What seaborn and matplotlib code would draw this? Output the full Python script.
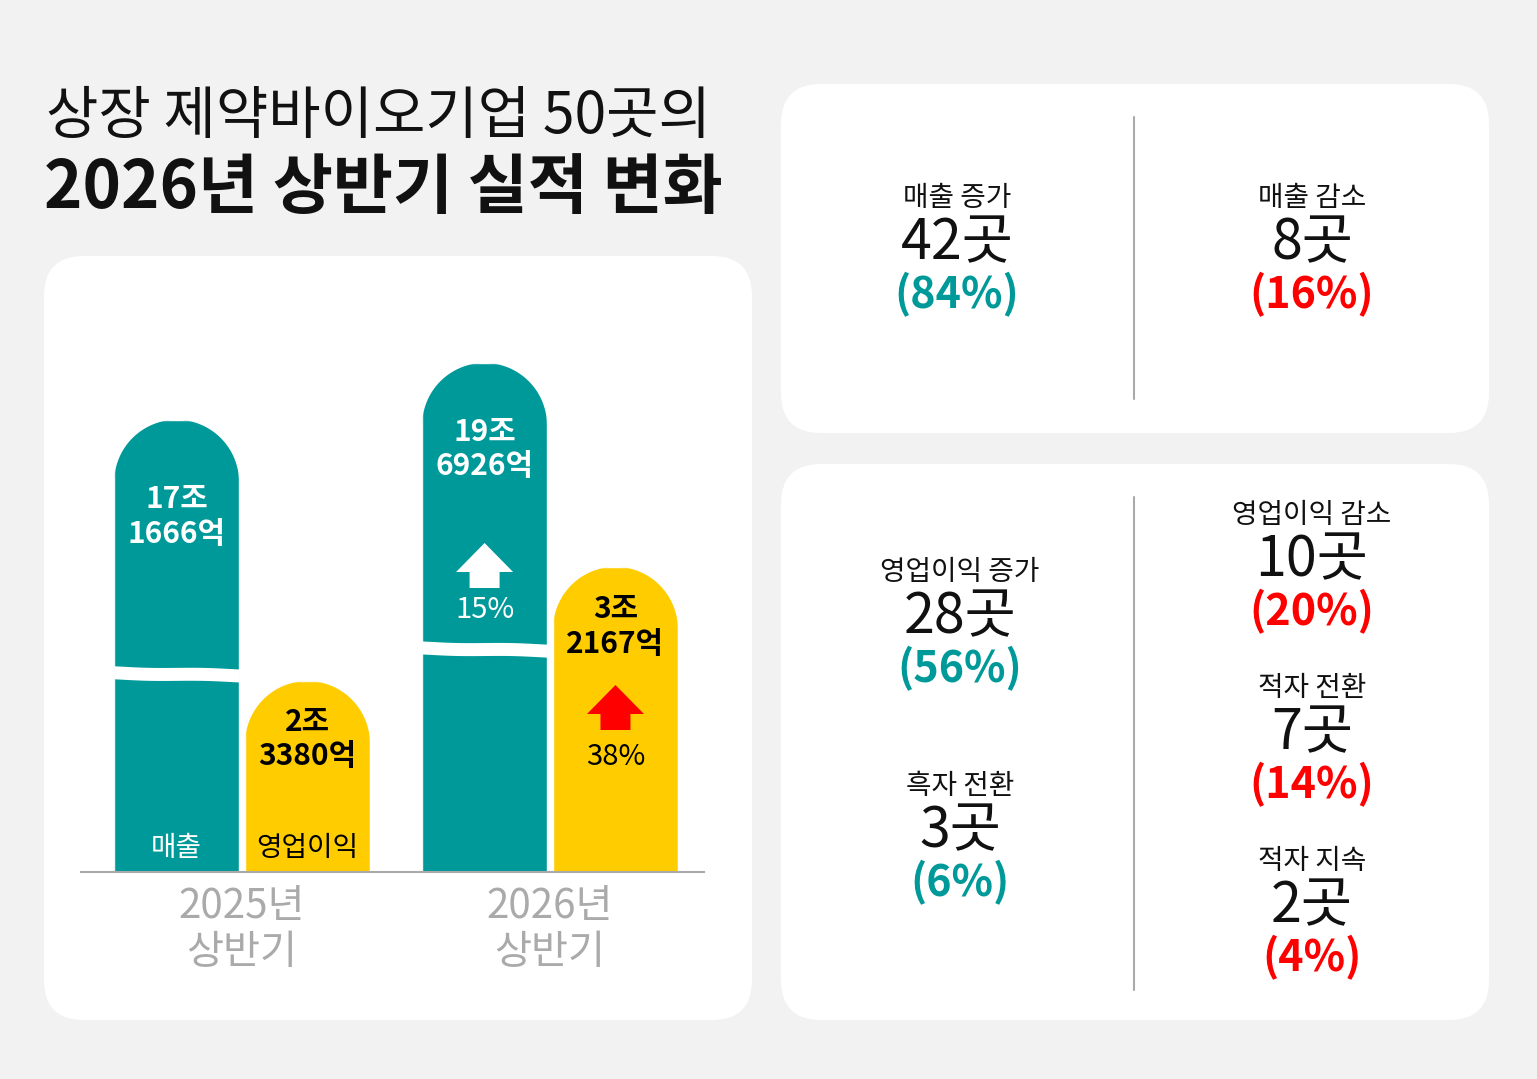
import numpy as np
import pandas as pd
import seaborn as sns
import matplotlib.pyplot as plt
from matplotlib.patches import FancyBboxPatch, Polygon

# ---- data ----
periods = ["2025년\n상반기", "2026년\n상반기"]
metrics = ["매출", "영업이익"]
revenue = [17.1666, 19.6926]        # 조 원
op_profit = [2.3380, 3.2167]        # 조 원
revenue_labels = ["17조\n1666억", "19조\n6926억"]
profit_labels = ["2조\n3380억", "3조\n2167억"]
growth_labels = ["15%", "38%"]       # 매출, 영업이익 증가율

sales_cats = ["매출 증가", "매출 감소"]
sales_counts = [42, 8]
sales_pcts = [84, 16]
op_up_cats = ["영업이익 증가", "흑자 전환"]
op_up_counts = [28, 3]
op_up_pcts = [56, 6]
op_down_cats = ["영업이익 감소", "적자 전환", "적자 지속"]
op_down_counts = [10, 7, 2]
op_down_pcts = [20, 14, 4]

TEAL = "#009999"
YELLOW = "#ffcc00"
RED = "#ff0000"
GREY = "#aaaaaa"
W, H = 1537, 1079

sns.set_theme(style="white")
plt.rcParams["font.family"] = ["Noto Sans CJK KR", "DejaVu Sans"]

fig = plt.figure(figsize=(W / 100, H / 100), dpi=100)
fig.patch.set_facecolor("#f2f2f2")

# background canvas in pixel coordinates
bg = fig.add_axes([0, 0, 1, 1], zorder=0)
bg.set_xlim(0, W)
bg.set_ylim(H, 0)
bg.axis("off")

def panel(x0, y0, x1, y1):
    bg.add_patch(FancyBboxPatch((x0, y0), x1 - x0, y1 - y0,
                                boxstyle="round,pad=0,rounding_size=40",
                                fc="white", ec="none"))

panel(44, 256, 752, 1020)
panel(781, 84, 1489, 433)
panel(781, 464, 1489, 1020)
bg.plot([1134, 1134], [117, 399], color=GREY, lw=1.5)
bg.plot([1134, 1134], [497, 990], color=GREY, lw=1.5)

bg.text(46, 117, "상장 제약바이오기업 50곳의", fontsize=41, ha="left", va="center", color="#111111")
bg.text(44, 188, "2026년 상반기 실적 변화", fontsize=47, fontweight="black",
        ha="left", va="center", color="#111111")

# ---- bar chart (broken value scale: 매출 bars are compressed above the break) ----
knot_v = [0, 2, 3.5, 16, 20, 24]
knot_d = [0, 147, 342, 426, 516, 606]

def fwd(v):
    return np.interp(v, knot_v, knot_d)

def inv(d):
    return np.interp(d, knot_d, knot_v)

base_px = 872
ax = fig.add_axes([81 / W, (H - base_px) / H, 623 / W, 606 / H], zorder=1)
ax.patch.set_alpha(0)

df = pd.DataFrame({
    "period": periods * 2,
    "metric": [metrics[0]] * 2 + [metrics[1]] * 2,
    "value": revenue + op_profit,
})
sns.barplot(data=df, x="period", y="value", hue="metric",
            palette={metrics[0]: TEAL, metrics[1]: YELLOW},
            width=0.85, gap=0.046, legend=False, ax=ax, saturation=1)
ax.set_yscale("function", functions=(fwd, inv))
ax.set_ylim(0, 24)
ax.set_xlim(-0.523, 1.5)
ax.set_yticks([])
ax.set_xlabel("")
ax.set_ylabel("")
for s in ["top", "right", "left"]:
    ax.spines[s].set_visible(False)
ax.spines["bottom"].set_color(GREY)
ax.spines["bottom"].set_linewidth(1.5)
ax.tick_params(axis="x", length=0, pad=10, labelsize=29, labelcolor=GREY)
for lab in ax.get_xticklabels():
    lab.set_linespacing(1.15)

# overlay for annotations, pixel coordinates
ov = fig.add_axes([0, 0, 1, 1], zorder=2)
ov.set_xlim(0, W)
ov.set_ylim(H, 0)
ov.axis("off")
ov.patch.set_alpha(0)

to_data = ax.transData.inverted()
bars = []
for p in ax.patches:
    bb = p.get_window_extent()
    if bb.width < 1:
        continue
    x0, x1 = bb.x0, bb.x1
    top, base = H - bb.y1, H - bb.y0
    bars.append((x0, x1, top, base, p))
bars.sort(key=lambda b: b[0])

for x0, x1, top, base, p in bars:
    r = (x1 - x0) / 2
    cx = (x0 + x1) / 2
    t = np.linspace(np.pi, 0, 60)
    arc = np.column_stack([cx + r * np.cos(t), top + r - r * np.sin(t)])
    pts = np.vstack([[x0, base + 2], [x0, top + r], arc, [x1, top + r], [x1, base + 2]])
    disp = np.column_stack([pts[:, 0], H - pts[:, 1]])
    clip = Polygon(to_data.transform(disp), closed=True, transform=ax.transData)
    p.set_clip_path(clip)

# order after sort: 2025 매출, 2025 영업이익, 2026 매출, 2026 영업이익
b_rev = [bars[0], bars[2]]
b_op = [bars[1], bars[3]]

# break bands on the 매출 bars
for x0, x1, top, base, p in b_rev:
    yc = base - 0.437 * (base - top)
    xs = np.linspace(x0, x1, 50)
    tt = (xs - x0) / (x1 - x0)
    mid = yc + 1.6 * np.sin(np.pi * tt - np.pi / 2) + 1.0 * np.sin(2 * np.pi * tt)
    band = np.vstack([np.column_stack([xs, mid - 6.5]), np.column_stack([xs[::-1], mid[::-1] + 6.5])])
    ov.add_patch(Polygon(band, closed=True, fc="white", ec="none"))

rev_off = [80, 69]
op_off = [41, 43]
for i, (x0, x1, top, base, p) in enumerate(b_rev):
    cx = (x0 + x1) / 2
    ov.text(cx, top + rev_off[i] + 17, revenue_labels[i], color="white", fontsize=21.5,
            fontweight="bold", ha="center", va="center", linespacing=1.2)
for i, (x0, x1, top, base, p) in enumerate(b_op):
    cx = (x0 + x1) / 2
    ov.text(cx, top + op_off[i] + 17, profit_labels[i], color="black", fontsize=21.5,
            fontweight="bold", ha="center", va="center", linespacing=1.2)

# metric names at the bottom of 2025 bars
ov.text((b_rev[0][0] + b_rev[0][1]) / 2, 848, metrics[0], color="white", fontsize=20,
        ha="center", va="center")
ov.text((b_op[0][0] + b_op[0][1]) / 2, 848, metrics[1], color="black", fontsize=20,
        ha="center", va="center")

def up_arrow(cx, ytop, color):
    pts = [(cx, ytop), (cx + 28.5, ytop + 29), (cx + 15, ytop + 29), (cx + 15, ytop + 45),
           (cx - 15, ytop + 45), (cx - 15, ytop + 29), (cx - 28.5, ytop + 29)]
    ov.add_patch(Polygon(pts, closed=True, fc=color, ec="none"))

cx3 = (b_rev[1][0] + b_rev[1][1]) / 2
cx4 = (b_op[1][0] + b_op[1][1]) / 2
up_arrow(cx3, 543, "white")
up_arrow(cx4, 685, RED)
ov.text(cx3, 610, growth_labels[0], color="white", fontsize=21, ha="center", va="center")
ov.text(cx4, 757, growth_labels[1], color="black", fontsize=21, ha="center", va="center")

# ---- summary panels ----
def stat(cx, y, label, count, pct, pct_color):
    bg.text(cx, y + 2, label, fontsize=20, ha="center", va="center", color="#111111")
    bg.text(cx, y + 47, f"{count}곳", fontsize=40, ha="center", va="center", color="#111111")
    bg.text(cx, y + 99, f"({pct}%)", fontsize=31, fontweight="bold", ha="center",
            va="center", color=pct_color)

stat(957, 196, sales_cats[0], sales_counts[0], sales_pcts[0], TEAL)
stat(1312, 196, sales_cats[1], sales_counts[1], sales_pcts[1], RED)

for cat, n, pc, y in zip(op_up_cats, op_up_counts, op_up_pcts, [570, 784]):
    stat(960, y, cat, n, pc, TEAL)
for cat, n, pc, y in zip(op_down_cats, op_down_counts, op_down_pcts, [513, 686, 859]):
    stat(1312, y, cat, n, pc, RED)

fig.savefig("out.png", dpi=100, facecolor=fig.get_facecolor())
